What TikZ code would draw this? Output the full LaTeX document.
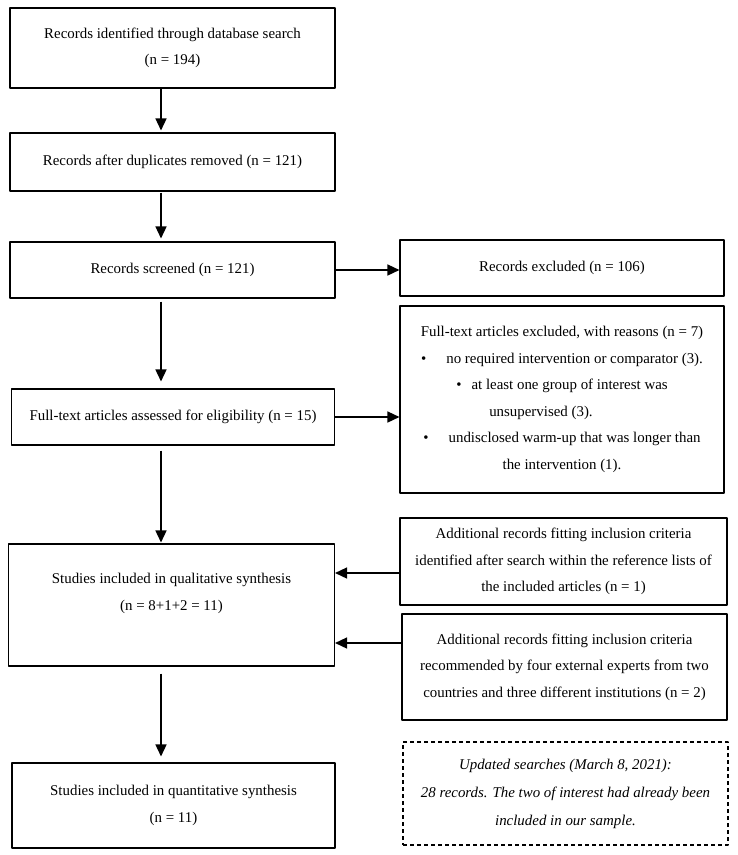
\documentclass[tikz,border=0pt]{standalone}
\usepackage{fontspec}
\setmainfont{Liberation Serif}
\usetikzlibrary{arrows.meta}
\begin{document}
\begin{tikzpicture}[x=1pt, y=-1pt, font=\fontsize{14.9}{26.5}\selectfont, line join=round,
	box/.style={draw, line width=1.1pt, align=center, inner sep=0pt},
	arr/.style={line width=1.5pt, -{Triangle[length=12pt,width=11pt]}}]
	\useasboundingbox (0,0) rectangle (738,855);
	\coordinate (axis) at (161,0);
	\node[box, minimum width=325pt, minimum height=80pt] (ident) at (172.5,48) {Records identified through database search\\(n = 194)};
	\node[box, minimum width=325pt, minimum height=58pt] (dupl) at (172.5,162) {Records after duplicates removed (n = 121)};
	\node[box, minimum width=325pt, minimum height=56pt] (scr) at (172.5,270) {Records screened (n = 121)};
	\node[box, minimum width=324pt, minimum height=56pt] (excl) at (562,268) {Records excluded (n = 106)};
	\node[box, minimum width=323pt, minimum height=56pt] (elig) at (173,417) {Full-text articles assessed for eligibility (n = 15)};
	\node[box, minimum width=324pt, minimum height=187pt] (reas) at (562,399.5) {Full-text articles excluded, with reasons (n = 7)\\
		\textbullet\hspace{20pt}no required intervention or comparator (3).\\
		\textbullet\hspace{10pt}at least one group of interest was\\
		unsupervised (3).\hspace*{42pt}\mbox{}\\
		\textbullet\hspace{20pt}undisclosed warm-up that was longer than\\
		the intervention (1).};
	\node[box, minimum width=326pt, minimum height=122pt] (qual) at (171.5,605) {Studies included in qualitative synthesis\\(n = 8+1+2 = 11)\\\mbox{}};
	\node[box, minimum width=327pt, minimum height=87pt] (addref) at (563.5,561.5) {Additional records fitting inclusion criteria\\identified after search within the reference lists of\\the included articles (n = 1)};
	\node[box, minimum width=325pt, minimum height=106pt] (addexp) at (564.5,667) {Additional records fitting inclusion criteria\\recommended by four external experts from two\\countries and three different institutions (n = 2)};
	\node[box, minimum width=323pt, minimum height=85pt] (quant) at (173.5,805.5) {Studies included in quantitative synthesis\\(n = 11)};
	\node[box, dash pattern=on 4pt off 3pt, minimum width=325pt, minimum height=103pt, font=\fontsize{14.9}{28}\selectfont\itshape] (upd) at (565.5,793.5) {Updated searches (March 8, 2021):\\28 records. The two of interest had already been\\included in our sample.};
	\draw[arr, shorten >=2pt] (ident.south -| axis) -- (dupl.north -| axis);
	\draw[arr, shorten <=1pt, shorten >=3pt] (dupl.south -| axis) -- (scr.north -| axis);
	\draw[arr, shorten <=3pt, shorten >=7pt] (scr.south -| axis) -- (elig.north -| axis);
	\draw[arr, shorten <=5pt, shorten >=1pt] (elig.south -| axis) -- (qual.north -| axis);
	\draw[arr, shorten <=7pt, shorten >=6pt] (qual.south -| axis) -- (quant.north -| axis);
	\draw[arr] (scr.east) -- (scr.east -| excl.west);
	\draw[arr] (elig.east) -- (elig.east -| reas.west);
	\draw[arr] ([yshift=-11.5pt]addref.west) -- ([yshift=-11.5pt]addref.west -| qual.east);
	\draw[arr] ([yshift=24pt]addexp.west) -- ([yshift=24pt]addexp.west -| qual.east);
\end{tikzpicture}
\end{document}
